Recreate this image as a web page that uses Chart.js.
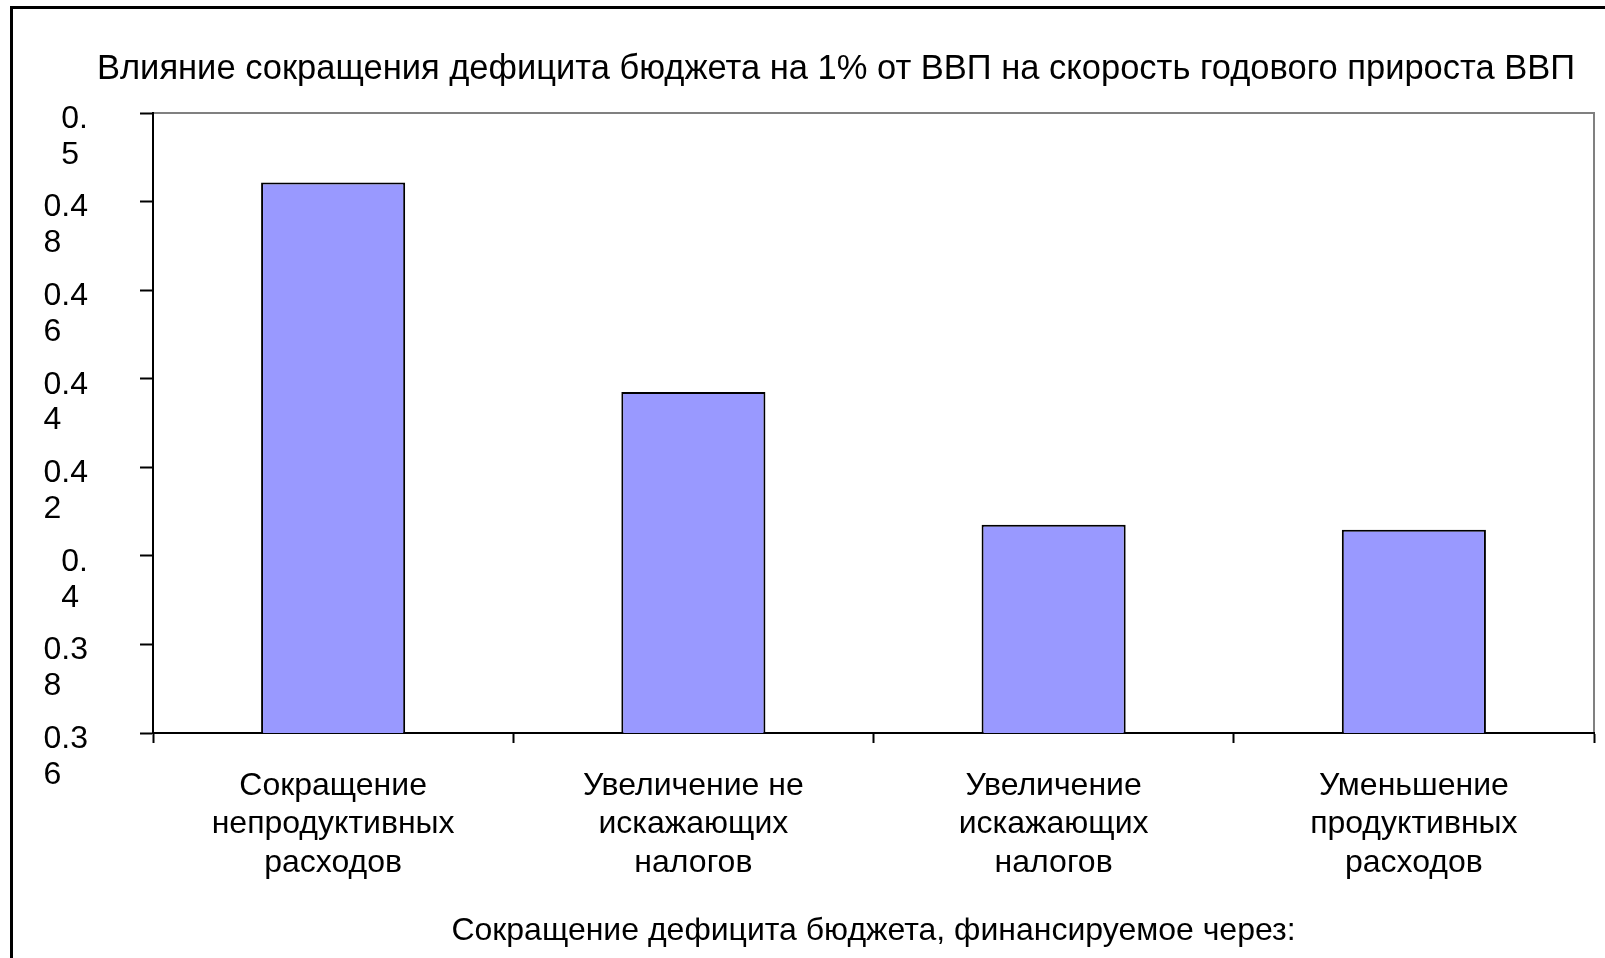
<!DOCTYPE html>
<html lang="ru">
<head>
    <meta charset="UTF-8">
    <title>Влияние сокращения дефицита бюджета</title>
    <script src="https://cdn.jsdelivr.net/npm/chart.js"></script>
    <style>
        html, body { margin: 0; padding: 0; background: #fff; overflow: hidden; }
        #wrap { position: absolute; left: 0; top: 0; width: 1605px; height: 958px; }
        /* outer frame of the original figure, runs off the right/bottom edge */
        #frame {
            position: absolute; left: 10px; top: 6px; width: 2000px; height: 2000px;
            border-left: 3px solid #000; border-top: 3px solid #000;
            pointer-events: none;
        }
    </style>
</head>
<body>
    <div id="wrap"><canvas id="chart"></canvas></div>
    <div id="frame"></div>

    <script>
        // --- DATA ---
        const chartTitle = 'Влияние сокращения дефицита бюджета на 1% от ВВП на скорость годового прироста ВВП';
        const axisTitle = 'Сокращение дефицита бюджета, финансируемое через:';
        const categories = [
            ['Сокращение', 'непродуктивных', 'расходов'],
            ['Увеличение не', 'искажающих', 'налогов'],
            ['Увеличение', 'искажающих', 'налогов'],
            ['Уменьшение', 'продуктивных', 'расходов']
        ];
        const values = [0.4843, 0.437, 0.407, 0.4059];
        const yMin = 0.36;
        const yMax = 0.5;
        const yStep = 0.02;

        const FONT = "'Liberation Sans', Arial, sans-serif";

        // Excel squeezed the tick labels into a narrow column, so they wrap: "0.4" / "8"
        function wrapTick(value) {
            const s = String(Math.round(value * 100) / 100);
            const cut = s.length > 3 ? 3 : 2;
            const first = s.slice(0, cut);
            let second = s.slice(cut);
            // pad so the second line starts under the first one (labels are right aligned)
            second += ' '.repeat((first.length - second.length) * 2 - (first.includes('.') ? 1 : 0));
            return ['', first, second];
        }

        // grey frame on the top and right of the plot area
        const plotFrame = {
            id: 'plotFrame',
            afterLayout(chart) {
                // let the wrapped y labels spill left of the axis box without being clipped
                chart.scales.y.left = 0;
            },
            beforeDraw(chart) {
                const { ctx, chartArea: a } = chart;
                ctx.save();
                ctx.strokeStyle = '#808080';
                ctx.lineWidth = 2;
                ctx.strokeRect(a.left, a.top, a.right - a.left, a.bottom - a.top);
                ctx.restore();
            }
        };

        new Chart(document.getElementById('chart'), {
            type: 'bar',
            data: {
                labels: categories,
                datasets: [{
                    data: values,
                    backgroundColor: '#9999FF',
                    borderColor: '#000',
                    borderWidth: 2,
                    barPercentage: 0.4,
                    categoryPercentage: 1
                }]
            },
            options: {
                responsive: true,
                maintainAspectRatio: false,
                animation: false,
                layout: { padding: { left: 78, right: 11, top: 0, bottom: 0 } },
                plugins: {
                    legend: { display: false },
                    tooltip: { enabled: false },
                    title: {
                        display: true,
                        text: chartTitle,
                        color: '#000',
                        font: { family: FONT, size: 34.5, weight: 'normal', lineHeight: 1.2 },
                        padding: { top: 49, bottom: 22.6 }
                    }
                },
                scales: {
                    x: {
                        z: 1,
                        border: { display: true, color: '#000', width: 2 },
                        grid: {
                            drawOnChartArea: false,
                            drawTicks: true,
                            tickLength: 10,
                            tickColor: '#000',
                            tickWidth: 2,
                            offset: true
                        },
                        ticks: {
                            color: '#000',
                            padding: 24,
                            maxRotation: 0,
                            autoSkip: false,
                            font: { family: FONT, size: 32, lineHeight: 1.2 }
                        },
                        title: {
                            display: true,
                            text: axisTitle,
                            color: '#000',
                            font: { family: FONT, size: 32, lineHeight: 1.2 },
                            padding: { top: 0, bottom: 8 }
                        },
                        afterFit(scale) { scale.height = 225; }
                    },
                    y: {
                        z: 1,
                        min: yMin,
                        max: yMax,
                        border: { display: true, color: '#000', width: 2 },
                        grid: {
                            drawOnChartArea: false,
                            drawTicks: true,
                            tickLength: 13,
                            tickColor: '#000',
                            tickWidth: 2
                        },
                        ticks: {
                            stepSize: yStep,
                            autoSkip: false,
                            color: '#000',
                            padding: 52,
                            labelOffset: 6,
                            font: { family: FONT, size: 32, lineHeight: 1.12 },
                            callback: (v) => wrapTick(v)
                        },
                        afterFit(scale) { scale.width = 75; }
                    }
                }
            },
            plugins: [plotFrame]
        });
    </script>
</body>
</html>
